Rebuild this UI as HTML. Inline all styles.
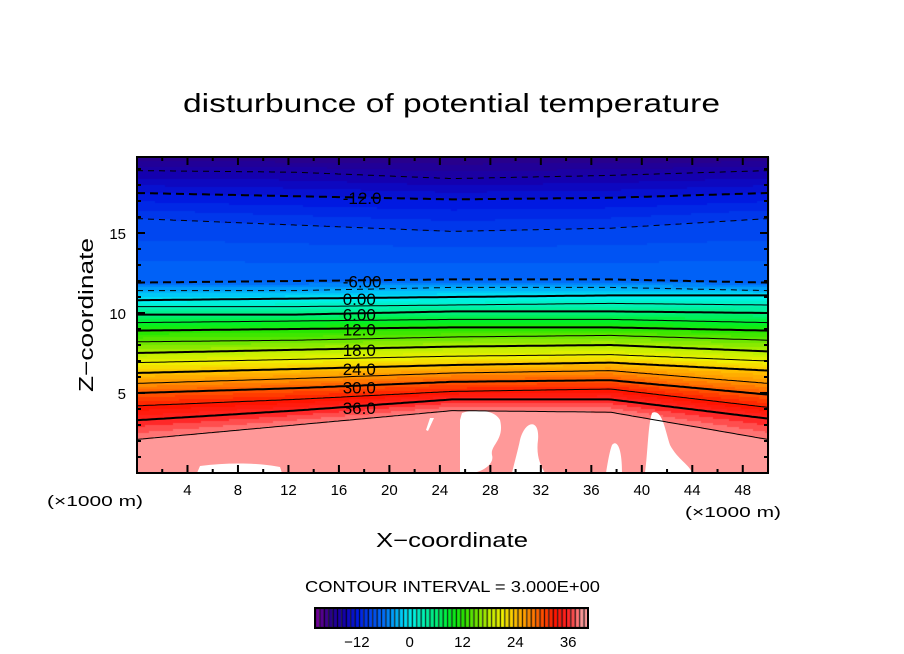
<!DOCTYPE html>
<html><head><meta charset="utf-8"><style>
html,body{margin:0;padding:0;background:#fff;}
#wrap{position:relative;width:904px;height:654px;overflow:hidden;}
canvas,svg{position:absolute;left:0;top:0;}
text{font-family:"Liberation Sans",sans-serif;fill:#000;}
</style></head><body>
<div id="wrap">
<canvas id="cv" width="904" height="654"></canvas>
<svg id="sv" width="904" height="654"></svg>
</div>
<script>
// ---- data ----
const xsKm = [0, 12.5, 25, 37.5, 50];
const levels = [-15,-12,-9,-6,-3,0,3,6,9,12,15,18,21,24,27,30,33,36,39];
const levelHeights = [
 [18.9,18.8,18.4,18.6,18.9],
 [17.5,17.3,17.1,17.2,17.5],
 [15.9,15.5,15.1,15.3,15.9],
 [11.9,12.0,12.1,12.1,11.9],
 [11.4,11.4,11.6,11.6,11.4],
 [10.8,10.9,11.0,11.1,11.1],
 [10.4,10.4,10.5,10.6,10.5],
 [9.9,9.9,10.1,10.1,10.0],
 [9.4,9.5,9.6,9.6,9.4],
 [8.9,9.0,9.1,9.1,8.9],
 [8.2,8.3,8.5,8.6,8.3],
 [7.5,7.7,7.9,8.0,7.6],
 [6.9,7.1,7.3,7.4,7.0],
 [6.25,6.5,6.75,6.9,6.4],
 [5.6,5.9,6.25,6.4,5.6],
 [5.0,5.3,5.7,5.8,4.9],
 [4.2,4.6,5.1,5.25,4.1],
 [3.3,3.9,4.6,4.6,3.4],
 [2.1,3.0,3.9,3.8,2.1]
];
const topValue = -18, bottomValue = 40;
const labelLevels = [-12,-6,0,6,12,18,24,30,36];
const labelTexts = ["-12.0","-6.00","0.00","6.00","12.0","18.0","24.0","30.0","36.0"];
const xTicks = [4,8,12,16,20,24,28,32,36,40,44,48];
const yTicks = [5,10,15];
const cbarTicks = [-12,0,12,24,36];
const cbarMin = -21, cbarMax = 40;

// ---- axes ----
const PL=137, PR=768, PT=157, PB=473;
const X = v => PL + v*(PR-PL)/50;
const Y = z => PB - z*16;
const ZTOP = (PB-PT)/16;
const CBL=315, CBR=588;
const CX = v => CBL + (v-cbarMin+0.5)*(CBR-CBL)/(cbarMax-cbarMin+1);

const stops=[[-21,[110,0,150]],[-18,[40,0,140]],[-15,[20,0,175]],[-12,[0,25,225]],[-9,[0,70,240]],[-6,[0,110,250]],[-3,[0,180,250]],[0,[0,240,240]],[3,[0,240,180]],[6,[0,240,120]],[9,[0,240,40]],[12,[40,230,0]],[15,[110,230,0]],[18,[190,240,0]],[21,[240,240,0]],[24,[255,190,0]],[27,[255,140,0]],[30,[255,80,0]],[33,[255,20,0]],[36,[255,40,40]],[39,[255,153,153]],[41,[255,153,153]]];
function cmap(v){
  if(v<=stops[0][0]) return stops[0][1];
  for(let i=1;i<stops.length;i++){ if(v<=stops[i][0]){const a=stops[i-1],b=stops[i];const t=(v-a[0])/(b[0]-a[0]);return a[1].map((c,k)=>Math.round(c+(b[1][k]-c)*t));}}
  return stops[stops.length-1][1];
}
function hAt(li,x){
  for(let i=1;i<xsKm.length;i++){ if(x<=xsKm[i]){const t=(x-xsKm[i-1])/(xsKm[i]-xsKm[i-1]);return levelHeights[li][i-1]+(levelHeights[li][i]-levelHeights[li][i-1])*t;}}
  return levelHeights[li][xsKm.length-1];
}
function valueAt(x,z){
  const zs=[ZTOP], vs=[topValue];
  for(let i=0;i<levels.length;i++){zs.push(hAt(i,x));vs.push(levels[i]);}
  zs.push(0);vs.push(bottomValue);
  for(let i=1;i<zs.length;i++){ if(z>=zs[i]){const t=(zs[i-1]-z)/(zs[i-1]-zs[i]);return vs[i-1]+(vs[i]-vs[i-1])*t;}}
  return bottomValue;
}
// ---- fill ----
const ctx=document.getElementById('cv').getContext('2d');
for(let py=PT;py<PB;py+=2){
  for(let px=PL;px<PR;px+=2){
    const x=(px+1-PL)*50/(PR-PL), z=(PB-py-1)/16;
    let v=Math.floor(valueAt(x,z));
    const c=cmap(v);
    ctx.fillStyle=`rgb(${c[0]},${c[1]},${c[2]})`;
    ctx.fillRect(px,py,2,2);
  }
}
// colorbar
for(let v=cbarMin; v<=cbarMax; v++){
  const c=cmap(v);
  const w=(CBR-CBL)/(cbarMax-cbarMin+1);
  const x0=CBL+(v-cbarMin)*w;
  ctx.fillStyle='#000';ctx.fillRect(x0,608,w,20);
  ctx.fillStyle=`rgb(${c[0]},${c[1]},${c[2]})`;ctx.fillRect(x0+1,609,w-1,18);
}
// ---- svg overlay ----
const NS='http://www.w3.org/2000/svg';
const sv=document.getElementById('sv');
function mk(tag,attrs,parent){const e=document.createElementNS(NS,tag);for(const k in attrs)e.setAttribute(k,attrs[k]);(parent||sv).appendChild(e);return e;}
const wp=mk('path',{d:"M462,413 C475,408 495,410 500,420 C505,440 490,445 492,455 C495,465 480,473 470,473 L460,473 L460,420 Z M520,440 C525,420 540,418 538,440 C536,455 540,465 545,473 L512,473 C515,460 518,450 520,440 Z M612,445 C616,440 622,445 622,473 L606,473 C608,460 610,450 612,445 Z M652,413 C662,408 665,430 670,445 C678,460 690,465 692,473 L645,473 C648,450 648,425 652,413 Z M200,466 C230,462 260,463 280,467 L282,473 L197,473 Z M430,418 L434,418 L428,431 L426,430 Z",fill:'#fff'});


for(let i=0;i<levels.length;i++){
  const L=levels[i];
  let d='';
  for(let px=PL;px<=PR;px+=3){const x=(px-PL)*50/(PR-PL);d+=(d?'L':'M')+px+','+Y(hAt(i,x)).toFixed(1);}
  const thick=(L%6===0);
  const p=mk('path',{d:d,fill:'none',stroke:'#000','stroke-width':thick?2:1});
  if(L<0)p.setAttribute('stroke-dasharray',thick?'8,5':'6,5');
  
  
}
for(let j=0;j<labelLevels.length;j++){
  const i=levels.indexOf(labelLevels[j]);
  const xk=16.3;
  const t=mk('text',{x:X(xk),y:Y(hAt(i,xk))+7,'font-size':17});
  t.textContent=labelTexts[j];
  
  
}
const fr=mk('rect',{x:PL,y:PT,width:PR-PL,height:PB-PT,fill:'none',stroke:'#000','stroke-width':2});


let td='';
for(let v=2;v<50;v+=2){const len=(v%4===0)?8:4;td+=`M${X(v)},${PB}v${-len}M${X(v)},${PT}v${len}`;}
for(let z=1;z<20;z++){const len=(z%5===0)?8:4;td+=`M${PL},${Y(z)}h${len}M${PR},${Y(z)}h${-len}`;}
const tk=mk('path',{d:td,stroke:'#000','stroke-width':2});


for(const v of xTicks){const t=mk('text',{x:X(v),y:495,'font-size':15,'text-anchor':'middle'});t.textContent=v;
  
  }
for(const z of yTicks){const t=mk('text',{x:126,y:Y(z)+6,'font-size':15,'text-anchor':'end'});t.textContent=z;
  
  }
for(const v of cbarTicks){const t=mk('text',{x:CX(v),y:647,'font-size':15,'text-anchor':'middle'});t.textContent=(v<0?'\u2212'+(-v):v);
  
  }
const cb=mk('rect',{x:CBL,y:608,width:CBR-CBL,height:20,fill:'none',stroke:'#000','stroke-width':2});


</script>
<svg width="904" height="654" style="position:absolute;left:0;top:0">
<text x="183" y="112" font-size="26" textLength="537" lengthAdjust="spacingAndGlyphs">disturbunce of potential temperature</text>
<text x="0" y="0" font-size="20" textLength="154" lengthAdjust="spacingAndGlyphs" transform="translate(93,392) rotate(-90)">Z−coordinate</text>
<text x="376" y="547" font-size="20" textLength="152" lengthAdjust="spacingAndGlyphs">X−coordinate</text>
<text x="47" y="506" font-size="15" textLength="96" lengthAdjust="spacingAndGlyphs">(×1000 m)</text>
<text x="685" y="517" font-size="15" textLength="96" lengthAdjust="spacingAndGlyphs">(×1000 m)</text>
<text x="305" y="592" font-size="16" textLength="295" lengthAdjust="spacingAndGlyphs">CONTOUR INTERVAL = 3.000E+00</text>
</svg>
</body></html>
